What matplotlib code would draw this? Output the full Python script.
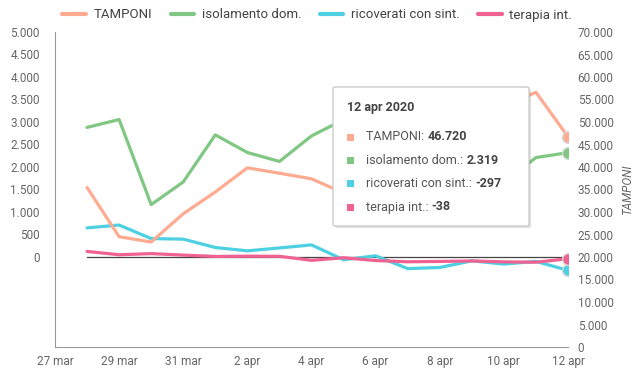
import matplotlib.pyplot as plt
import pandas as pd
from matplotlib.patches import FancyBboxPatch, Rectangle
from matplotlib.text import Annotation
from matplotlib.ticker import FuncFormatter

plt.rcParams['font.family'] = ['Roboto', 'DejaVu Sans']

# variazioni giornaliere, 28 mar - 12 apr 2020
giorni = ['2020-03-28', '2020-03-29', '2020-03-30', '2020-03-31', '2020-04-01',
          '2020-04-02', '2020-04-03', '2020-04-04', '2020-04-05', '2020-04-06',
          '2020-04-07', '2020-04-08', '2020-04-09', '2020-04-10', '2020-04-11',
          '2020-04-12']
tamponi = [35447, 24504, 23329, 29609, 34455, 39809, 38617, 37375, 34237, 30271,
           33713, 51680, 46244, 53495, 56609, 46720]
isolamento = [2880, 3055, 1164, 1668, 2714, 2322, 2123, 2691, 3050, 1993,
              1244, 1527, 1789, 1661, 2210, 2319]
ricoverati = [647, 710, 409, 397, 211, 137, 201, 269, -61, 27,
              -258, -233, -86, -157, -98, -297]
terapia = [124, 50, 75, 42, 12, 18, 15, -74, -17, -79,
           -106, -99, -88, -108, -116, -38]

tick_giorni = ['2020-03-27', '2020-03-29', '2020-03-31', '2020-04-02', '2020-04-04',
               '2020-04-06', '2020-04-08', '2020-04-10', '2020-04-12']
tick_labels = ['27 mar', '29 mar', '31 mar', '2 apr', '4 apr', '6 apr', '8 apr',
               '10 apr', '12 apr']

nomi = ['TAMPONI', 'isolamento dom.', 'ricoverati con sint.', 'terapia int.']
colori = ['#FFAB91', '#81C784', '#4DD0E1', '#F06292']
tooltip_title = '12 apr 2020'
tooltip_values = ['46.720', '2.319', '-297', '-38']

W, H = 634, 380
def fx(px):
    return px / W
def fy(py):
    return 1 - py / H

x = pd.to_datetime(giorni)
fig = plt.figure(figsize=(W / 100, H / 100), dpi=100)
ax = fig.add_axes([fx(55), fy(347), fx(568) - fx(55), fy(32) - fy(347)])
ax2 = ax.twinx()

grigio = '#666666'
fmt = FuncFormatter(lambda v, _: f"{int(v):,}".replace(',', '.'))

# linea dello zero
ax.plot([x[0], x[-1]], [0, 0], color='#444444', lw=0.9, zorder=1)

serie_sx = [isolamento, ricoverati, terapia]
handles = []
h, = ax2.plot(x, tamponi, color=colori[0], lw=2.3, solid_capstyle='round', zorder=3)
ax2.plot(x[-1], tamponi[-1], 'o', ms=8.5, color=colori[0], mec='#d8d8d8', mew=1, zorder=4)
handles.append(h)
for vals, col in zip(serie_sx, colori[1:]):
    h, = ax.plot(x, vals, color=col, lw=2.3, solid_capstyle='round', zorder=3)
    ax.plot(x[-1], vals[-1], 'o', ms=8.5, color=col, mec='#d8d8d8', mew=1, zorder=4)
    handles.append(h)

ax.set_ylim(-2000, 5000)
ax2.set_ylim(0, 70000)
ax.set_yticks(range(0, 5001, 500))
ax2.set_yticks(range(0, 70001, 5000))
ax.yaxis.set_major_formatter(fmt)
ax2.yaxis.set_major_formatter(fmt)
ax.set_xlim(pd.Timestamp('2020-03-27'), pd.Timestamp('2020-04-12'))
ax.set_xticks(pd.to_datetime(tick_giorni))
ax.set_xticklabels(tick_labels)

for a in (ax, ax2):
    for s in ('top', 'right'):
        a.spines[s].set_visible(False)
    a.spines['left'].set_visible(a is ax)
    a.spines['bottom'].set_visible(a is ax)
ax.spines['left'].set_color('#999999')
ax.spines['bottom'].set_color('#999999')
ax.tick_params(axis='y', length=0, pad=11, labelsize=8.5, labelcolor=grigio)
ax.tick_params(axis='x', length=0, pad=6, labelsize=8.5, labelcolor=grigio)
ax2.tick_params(axis='y', length=0, pad=7, labelsize=8.5, labelcolor=grigio)
ax2.set_ylabel('TAMPONI', style='italic', color=grigio, fontsize=8.5, labelpad=5)

leg = fig.legend(handles, nomi, loc='center', bbox_to_anchor=(0.5, fy(15)), ncol=4,
                 frameon=False, fontsize=9.5, handlelength=1.8, handletextpad=0.55,
                 columnspacing=1.4, labelcolor='#444444')
for lh in leg.get_lines():
    lh.set_linewidth(3)

# tooltip
bx0, bx1, by0, by1 = 333, 529, 87, 226
shadow = FancyBboxPatch((fx(bx0 + 2), fy(by1 + 2)), fx(bx1) - fx(bx0), fy(by0) - fy(by1),
                        boxstyle='round,pad=0,rounding_size=0.004', transform=fig.transFigure,
                        fc='#000000', ec='none', alpha=0.12, zorder=9)
box = FancyBboxPatch((fx(bx0), fy(by1)), fx(bx1) - fx(bx0), fy(by0) - fy(by1),
                     boxstyle='round,pad=0,rounding_size=0.004', transform=fig.transFigure,
                     fc='white', ec='#cccccc', lw=1, zorder=10)
fig.add_artist(shadow)
fig.add_artist(box)
fig.text(fx(347), fy(108), tooltip_title, fontsize=9, fontweight='bold', color='#444444',
         va='center', zorder=11)
for i, (nome, val, col) in enumerate(zip(nomi, tooltip_values, colori)):
    yy = [137, 160, 183, 207][i]
    fig.add_artist(Rectangle((fx(347), fy(yy + 3.5)), fx(7), 7 / H, transform=fig.transFigure,
                             fc=col, ec='none', zorder=11))
    t = fig.text(fx(366), fy(yy), nome + ': ', fontsize=9, color='#555555',
                 va='center', zorder=11)
    fig.add_artist(Annotation(val, xy=(1, 0), xycoords=t, fontsize=9, fontweight='bold',
                              color='#444444', va='bottom', ha='left', zorder=11,
                              annotation_clip=False))

fig.savefig('out.png', dpi=100)
